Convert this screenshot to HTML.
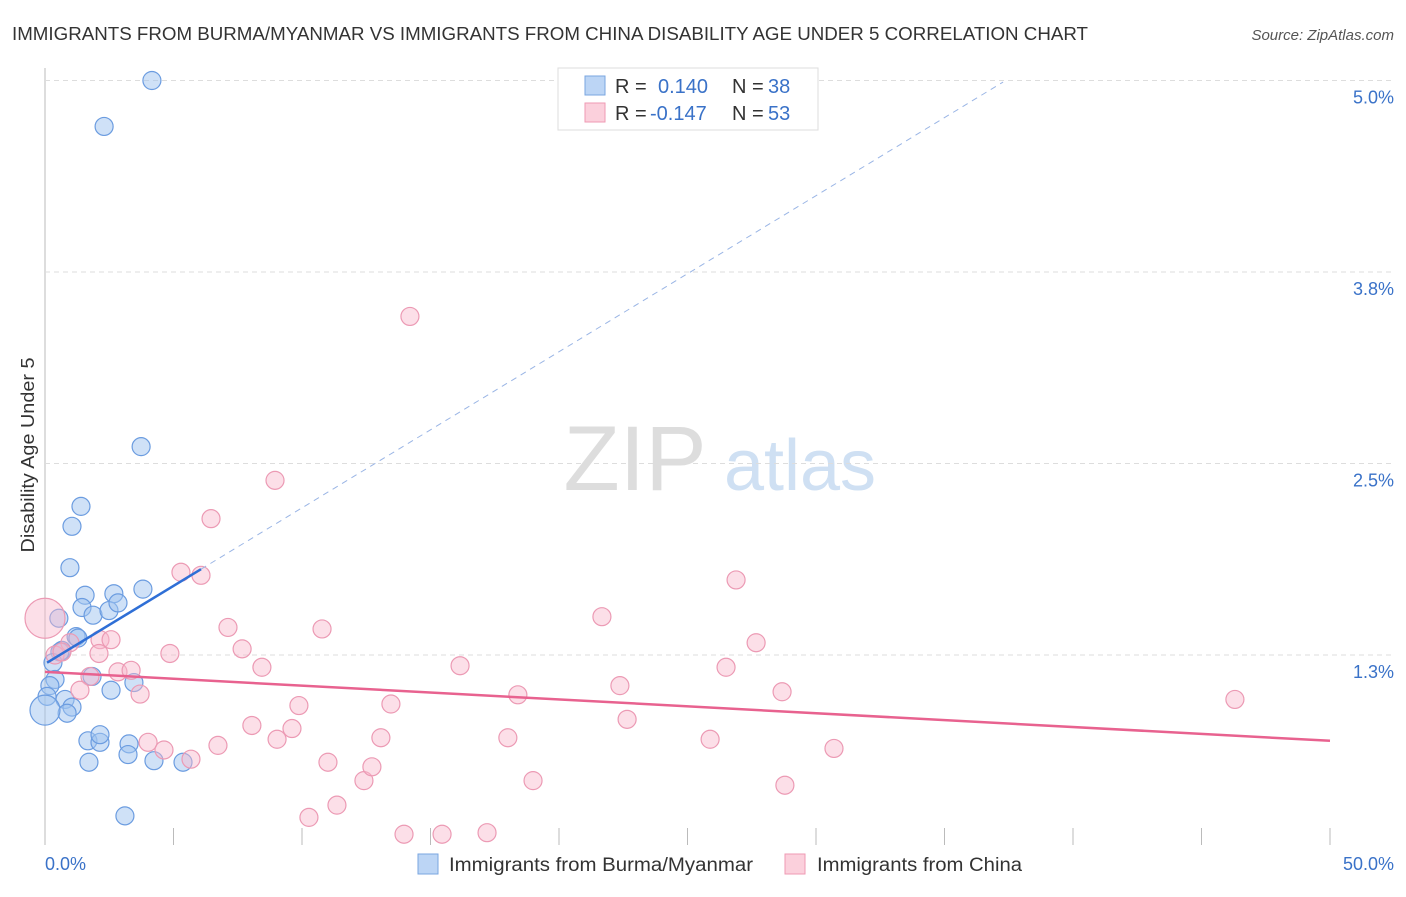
<!DOCTYPE html>
<html><head><meta charset="utf-8"><style>
body{margin:0;background:#fff;font-family:"Liberation Sans",sans-serif;}
svg text{font-family:"Liberation Sans",sans-serif;}
</style></head><body>
<svg id="chart" width="1406" height="892">
<text x="12" y="40" font-size="18" fill="#333" textLength="1076" lengthAdjust="spacingAndGlyphs">IMMIGRANTS FROM BURMA/MYANMAR VS IMMIGRANTS FROM CHINA DISABILITY AGE UNDER 5 CORRELATION CHART</text>
<text x="1394" y="40" font-size="15" fill="#555" font-style="italic" text-anchor="end">Source: ZipAtlas.com</text>
<text x="34" y="455" font-size="18" fill="#333" text-anchor="middle" transform="rotate(-90 34 455)" textLength="195" lengthAdjust="spacingAndGlyphs">Disability Age Under 5</text>
<g><text x="635" y="490" font-size="92" fill="#ddd" font-family="Liberation Serif" text-anchor="middle">ZIP</text><text x="800" y="490" font-size="72" fill="#cfe0f3" text-anchor="middle">atlas</text></g>
<g id="grid"></g><g id="ticks"></g><g id="pts"></g><g id="lines"></g>
<g>
<rect x="558" y="68" width="260" height="62" fill="#fff" stroke="#ddd"/>
<rect x="585" y="76" width="20" height="19" fill="#bcd5f5" stroke="#7aa6e0"/>
<text x="615" y="93" font-size="20" fill="#333">R = </text><text x="658" y="93" font-size="20" fill="#3a72c8">0.140</text>
<text x="732" y="93" font-size="20" fill="#333">N = </text><text x="768" y="93" font-size="20" fill="#3a72c8">38</text>
<rect x="585" y="103" width="20" height="19" fill="#fbd0dc" stroke="#ef9ab3"/>
<text x="615" y="120" font-size="20" fill="#333">R = </text><text x="650" y="120" font-size="20" fill="#3a72c8">-0.147</text>
<text x="732" y="120" font-size="20" fill="#333">N = </text><text x="768" y="120" font-size="20" fill="#3a72c8">53</text>
</g>
<g>
<rect x="418" y="854" width="20" height="20" fill="#bcd5f5" stroke="#7aa6e0"/>
<text x="449" y="871" font-size="19" fill="#333" textLength="304" lengthAdjust="spacingAndGlyphs">Immigrants from Burma/Myanmar</text>
<rect x="785" y="854" width="20" height="20" fill="#fbd0dc" stroke="#ef9ab3"/>
<text x="817" y="871" font-size="19" fill="#333" textLength="205" lengthAdjust="spacingAndGlyphs">Immigrants from China</text>
</g>
<text x="45" y="870" font-size="18" fill="#3a72c8">0.0%</text>
<text x="1394" y="870" font-size="18" fill="#3a72c8" text-anchor="end">50.0%</text>
</svg>
<script>
const yTicks=[5.0,3.75,2.5,1.25];
const yTickLabels=["5.0%","3.8%","2.5%","1.3%"];
const xTicks=[0,5,10,15,20,25,30,35,40,45,50];
const burmaX=[4.16,2.30,3.74,1.40,1.05,0.97,1.56,2.68,3.81,0.54,1.44,1.87,2.49,2.84,1.21,1.28,0.66,0.58,0.31,0.39,0.19,0.08,0.78,1.05,0.86,0.0,1.83,2.57,3.46,1.67,2.14,2.14,3.27,3.23,4.24,5.37,1.71,3.11];
const burmaY=[5.00,4.70,2.61,2.22,2.09,1.82,1.64,1.65,1.68,1.49,1.56,1.51,1.54,1.59,1.37,1.36,1.28,1.27,1.20,1.09,1.05,0.98,0.96,0.91,0.87,0.89,1.11,1.02,1.07,0.69,0.68,0.73,0.67,0.60,0.56,0.55,0.55,0.20];
const chinaX=[0,0.97,0.39,0.66,2.14,2.57,2.10,1.75,1.36,2.84,3.35,3.70,4.86,7.12,7.67,8.44,5.29,6.07,6.46,8.95,14.20,10.78,9.88,9.61,9.03,8.05,6.73,4.01,4.63,5.68,11.01,11.36,10.27,12.41,12.72,13.07,13.46,13.97,15.45,17.20,16.15,18.40,18.01,18.99,21.67,22.37,22.65,25.88,26.50,26.89,27.67,28.68,28.79,30.70,46.30];
const chinaY=[1.49,1.33,1.25,1.27,1.35,1.35,1.26,1.11,1.02,1.14,1.15,0.995,1.26,1.43,1.29,1.17,1.79,1.77,2.14,2.39,3.46,1.42,0.92,0.77,0.70,0.79,0.66,0.68,0.63,0.57,0.55,0.27,0.19,0.43,0.52,0.71,0.93,0.08,0.08,0.09,1.18,0.99,0.71,0.43,1.50,1.05,0.83,0.70,1.17,1.74,1.33,1.01,0.40,0.64,0.96];
const burmaTrend=[0.08,1.20,6.07,1.81,37.28,4.99];
const chinaTrend=[0,1.14,50,0.69];
const NS="http://www.w3.org/2000/svg";
const X=v=>45+v*25.7, Y=v=>655-(v-1.25)*153.2;
function mk(p,tag,a){const e=document.createElementNS(NS,tag);for(const k in a)e.setAttribute(k,a[k]);document.getElementById(p).appendChild(e);return e;}
const ax=mk('grid','line',{x1:45,y1:68,x2:45,y2:845,stroke:'#bbb'});


yTicks.forEach((t,i)=>{
 const g=mk('grid','line',{x1:45,x2:1395,y1:Y(t),y2:Y(t),stroke:'#ddd','stroke-dasharray':'5,4'});
 
 
 const l=mk('grid','text',{x:1394,y:Y(t)+23,'font-size':18,fill:'#3a72c8','text-anchor':'end'});
 l.textContent=yTickLabels[i];
 
 
});
xTicks.forEach(t=>{
 const e=mk('ticks','line',{x1:X(t),x2:X(t),y1:828,y2:845,stroke:'#bbb'});
 
 
});
burmaX.forEach((x,i)=>{
 const r=(x===0&&burmaY[i]<0.95)?15:9;
 const c=mk('pts','circle',{cx:X(x),cy:Y(burmaY[i]),r:r,fill:'rgba(160,195,240,0.5)',stroke:'#6b9ce0','stroke-width':1.2});
 
 
});
chinaX.forEach((x,i)=>{
 const r=(x===0)?20:9;
 const c=mk('pts','circle',{cx:X(x),cy:Y(chinaY[i]),r:r,fill:'rgba(248,185,205,0.45)',stroke:'#ec9ab4','stroke-width':1.2});
 
 
});
const bd=mk('lines','line',{x1:X(burmaTrend[2]),y1:Y(burmaTrend[3]),x2:X(burmaTrend[4]),y2:Y(burmaTrend[5]),stroke:'#9ab5e5','stroke-dasharray':'6,5','stroke-width':1});


const bl=mk('lines','line',{x1:X(burmaTrend[0]),y1:Y(burmaTrend[1]),x2:X(burmaTrend[2]),y2:Y(burmaTrend[3]),stroke:'#2f6fd6','stroke-width':2.5});


const cl=mk('lines','line',{x1:X(chinaTrend[0]),y1:Y(chinaTrend[1]),x2:X(chinaTrend[2]),y2:Y(chinaTrend[3]),stroke:'#e8628f','stroke-width':2.5});


</script>
</body></html>
